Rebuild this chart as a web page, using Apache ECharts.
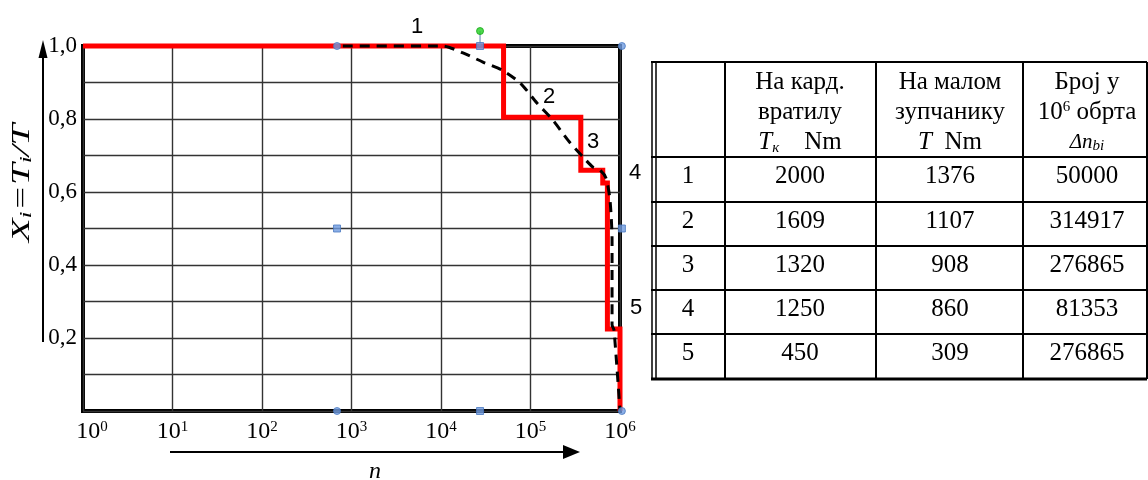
<!DOCTYPE html>
<html>
<head>
<meta charset="utf-8">
<script src="https://cdn.jsdelivr.net/npm/echarts@6/dist/echarts.min.js"></script>
<style>
  html, body { margin: 0; padding: 0; background: #fff; }
  #chart { width: 1148px; height: 480px; }
</style>
</head>
<body>
<div id="chart"></div>
<script>
// Load spectrum: five torque levels and the revolutions spent at each (per 10^6 revolutions)
const levelNo = ['1', '2', '3', '4', '5'];
const torqueShaft = [2000, 1609, 1320, 1250, 450];      // T_к, Nm
const torquePinion = [1376, 1107, 908, 860, 309];       // T, Nm
const revolutions = [50000, 314917, 276865, 81353, 276865]; // Δn_bi

// Smoothed (equivalent) load curve, read as [n, X]
const smoothCurve = [
  [800, 1.0], [10500, 1.0], [17600, 0.981], [29400, 0.956], [48100, 0.934],
  [76400, 0.899], [118000, 0.844], [178000, 0.797], [262000, 0.742],
  [386000, 0.696], [499000, 0.668], [598000, 0.660], [698000, 0.638],
  [773000, 0.578], [815000, 0.468], [815000, 0.236], [857000, 0.222],
  [1000000, 0.0]
];

// Selection handles of the curve's bounding box
const handleCircles = [[689, 1], [1.05e6, 1], [689, 0], [1.05e6, 0]];
const handleSquares = [[27300, 1], [689, 0.5], [1.05e6, 0.5], [27300, 0]];
const rotateHandle = [[27300, 1.041]];
const rotateStem = [[27300, 1], [27300, 1.041]];

// Axis tick labels
const yTickText = { 2: '0,2', 4: '0,4', 6: '0,6', 8: '0,8', 10: '1,0' };

// Stepped load histogram built from the table: X_i = T_i / T_1 over cumulative n
function buildSteps() {
  const pts = [];
  const ratio = torquePinion.map(t => t / torquePinion[0]);
  pts.push([1, ratio[0]]);
  let cum = 0;
  for (let i = 0; i < ratio.length; i++) {
    cum += revolutions[i];
    pts.push([cum, ratio[i]]);
    pts.push([cum, i + 1 < ratio.length ? ratio[i + 1] : 0]);
  }
  return pts;
}

const SERIF = 'Liberation Serif';
const SANS = 'Liberation Sans';

// ---- table drawn with graphic elements ----
const colX = [651, 725, 876, 1023, 1147];
const rowY = [62, 157, 202, 246, 290, 334, 379];
const tableGraphics = [];
function hline(y, x1, x2, w) {
  tableGraphics.push({ type: 'line', shape: { x1, y1: y, x2, y2: y }, style: { stroke: '#000', lineWidth: w } });
}
function vline(x, y1, y2, w) {
  tableGraphics.push({ type: 'line', shape: { x1: x, y1, x2: x, y2 }, style: { stroke: '#000', lineWidth: w } });
}
hline(rowY[0], colX[0], colX[4], 2);
for (let r = 1; r < rowY.length - 1; r++) hline(rowY[r], colX[0], colX[4], 2);
hline(rowY[rowY.length - 1], colX[0], colX[4], 3);
vline(652, rowY[0], rowY[6], 1.5);
vline(656, rowY[0], rowY[6], 1.5);
for (let c = 1; c < colX.length; c++) vline(colX[c], rowY[0], rowY[6], 2);

const richTable = {
  it: { fontFamily: SERIF, fontStyle: 'italic', fontSize: 25, fill: '#000' },
  sub: { fontFamily: SERIF, fontStyle: 'italic', fontSize: 15, verticalAlign: 'bottom', padding: [12, 0, 0, 0], fill: '#000' },
  sup: { fontFamily: SERIF, fontSize: 15, verticalAlign: 'top', padding: [0, 0, 10, 0], fill: '#000' },
  n: { fontFamily: SERIF, fontSize: 25, fill: '#000' },
  itsm: { fontFamily: SERIF, fontStyle: 'italic', fontSize: 21, fill: '#000' },
  subsm: { fontFamily: SERIF, fontStyle: 'italic', fontSize: 15, verticalAlign: 'bottom', padding: [8, 0, 0, 0], fill: '#000' }
};
function cellText(x, y, text) {
  tableGraphics.push({
    type: 'text', x, y,
    style: {
      text, fontFamily: SERIF, fontSize: 25, fill: '#000',
      align: 'center', verticalAlign: 'middle', rich: richTable
    }
  });
}
const headerLines = [
  ['{n|На кард.}', '{n|вратилу}', '{it|T}{sub|к}{n|    Nm}'],
  ['{n|На малом}', '{n|зупчанику}', '{it|T}{n|  Nm}'],
  ['{n|Број у}', '{n|10}{sup|6}{n| обрта}', '{itsm|Δn}{subsm|bi}']
];
const headerY = [82, 112, 142];
const colCenter = [688, 800, 950, 1087];
headerLines.forEach((lines, c) => {
  lines.forEach((t, k) => cellText(colCenter[c + 1], headerY[k], t));
});
for (let r = 0; r < levelNo.length; r++) {
  const y = rowY[r + 1] + 19;
  cellText(colCenter[0], y, '{n|' + levelNo[r] + '}');
  cellText(colCenter[1], y, '{n|' + torqueShaft[r] + '}');
  cellText(colCenter[2], y, '{n|' + torquePinion[r] + '}');
  cellText(colCenter[3], y, '{n|' + revolutions[r] + '}');
}

// ---- step numbers and axis arrows ----
const stepLabels = [
  { t: '1', x: 417, y: 27 }, { t: '2', x: 549, y: 97 }, { t: '3', x: 593, y: 142 },
  { t: '4', x: 635, y: 173 }, { t: '5', x: 636, y: 308 }
].map(o => ({
  type: 'text', x: o.x, y: o.y, z: 10,
  style: { text: o.t, fontFamily: SANS, fontSize: 22, fill: '#000', align: 'center', verticalAlign: 'middle' }
}));

const arrows = [
  { type: 'line', shape: { x1: 43, y1: 342, x2: 43, y2: 56 }, style: { stroke: '#000', lineWidth: 2 } },
  { type: 'polygon', shape: { points: [[43, 40], [38.5, 58], [47.5, 58]] }, style: { fill: '#000' } },
  { type: 'line', shape: { x1: 170, y1: 452, x2: 566, y2: 452 }, style: { stroke: '#000', lineWidth: 2 } },
  { type: 'polygon', shape: { points: [[580, 452], [563, 445], [563, 459]] }, style: { fill: '#000' } },
  {
    type: 'text', x: 375, y: 472,
    style: { text: 'n', fontFamily: SERIF, fontStyle: 'italic', fontSize: 24, fill: '#000', align: 'center', verticalAlign: 'middle' }
  },
  {
    type: 'text', x: 22, y: 183, rotation: Math.PI / 2, scaleX: 1.5,
    style: {
      text: '{a|X}{b|i}{a|=T}{b|i}{a|/T}',
      align: 'center', verticalAlign: 'middle', fill: '#000',
      rich: {
        a: { fontFamily: SERIF, fontStyle: 'italic', fontSize: 26, fill: '#000' },
        b: { fontFamily: SERIF, fontStyle: 'italic', fontSize: 17, verticalAlign: 'bottom', padding: [10, 0, 0, 0], fill: '#000' }
      }
    }
  }
];

const chart = echarts.init(document.getElementById('chart'));
chart.setOption({
  animation: false,
  backgroundColor: '#fff',
  grid: {
    left: 83, right: 528, top: 46, bottom: 69,
    show: true, borderColor: '#000', borderWidth: 4, backgroundColor: 'transparent'
  },
  xAxis: {
    type: 'log', logBase: 10, min: 1, max: 1e6, splitNumber: 6,
    axisLine: { show: false }, axisTick: { show: false },
    splitLine: { show: true, lineStyle: { color: '#333', width: 1.4 } },
    axisLabel: {
      margin: 9,
      formatter: v => {
        const e = Math.round(Math.log10(v));
        return e === 0 ? '{f|10}{s|0}' : '{b|10}{s|' + e + '}';
      },
      rich: {
        b: { fontFamily: SERIF, fontSize: 24, color: '#000' },
        f: { fontFamily: SERIF, fontSize: 24, color: '#000', padding: [0, 0, 0, 18] },
        s: { fontFamily: SERIF, fontSize: 15, color: '#000', verticalAlign: 'top', padding: [0, 0, 8, 0] }
      }
    }
  },
  yAxis: {
    type: 'value', min: 0, max: 1, interval: 0.1,
    axisLine: { show: false }, axisTick: { show: false },
    splitLine: { show: true, lineStyle: { color: '#333', width: 1.4 } },
    axisLabel: {
      margin: 6, color: '#000', fontFamily: SERIF, fontSize: 23,
      formatter: v => yTickText[Math.round(v * 10)] || ''
    }
  },
  series: [
    {
      name: 'steps', type: 'line', data: buildSteps(), clip: false, z: 3,
      symbol: 'none', lineStyle: { color: '#ff0000', width: 5, join: 'miter' }
    },
    {
      name: 'curve', type: 'line', data: smoothCurve, clip: false, z: 4,
      symbol: 'none', smooth: 0.25,
      lineStyle: { color: '#000', width: 3, type: [10, 7] }
    },
    {
      type: 'line', data: rotateStem, clip: false, z: 5, symbol: 'none',
      lineStyle: { color: '#5a7fb0', width: 1 }
    },
    {
      type: 'scatter', data: handleCircles, clip: false, z: 6, symbol: 'circle', symbolSize: 7,
      itemStyle: { color: '#6f9be0', borderColor: '#4a79c0', borderWidth: 1 }
    },
    {
      type: 'scatter', data: handleSquares, clip: false, z: 6, symbol: 'rect', symbolSize: 7,
      itemStyle: { color: '#6f9be0', borderColor: '#4a79c0', borderWidth: 1 }
    },
    {
      type: 'scatter', data: rotateHandle, clip: false, z: 6, symbol: 'circle', symbolSize: 7,
      itemStyle: { color: '#22d022', borderColor: '#18a818', borderWidth: 1 }
    }
  ],
  graphic: tableGraphics.concat(stepLabels, arrows)
});
</script>
</body>
</html>
